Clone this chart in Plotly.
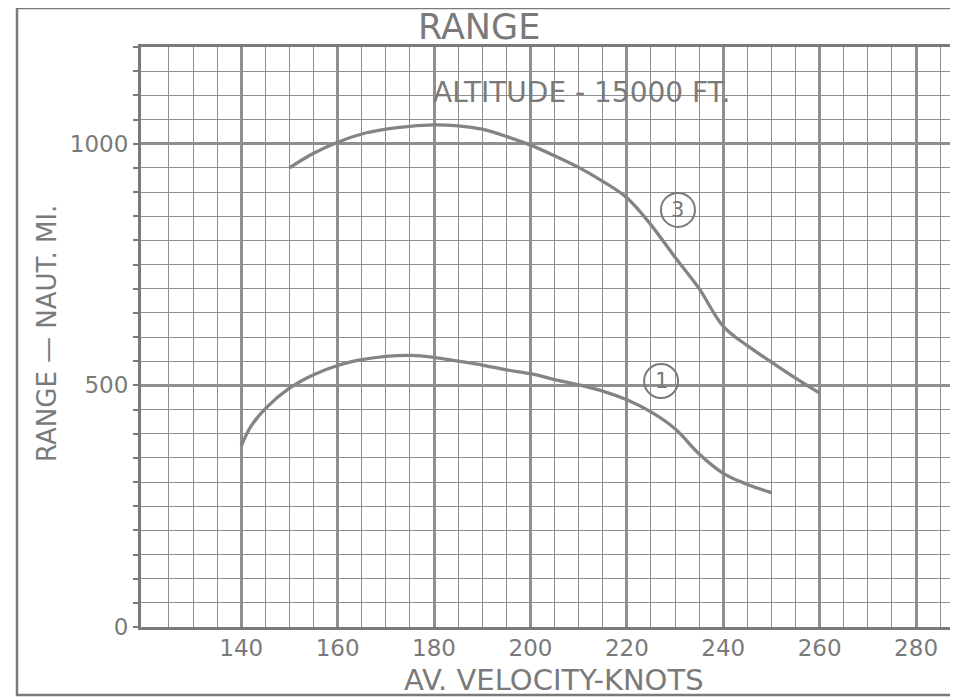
import plotly.graph_objects as go

# ---- data ----
velocity_3 = [150, 155, 160, 165, 170, 175, 180, 185, 190, 195, 200, 205, 210,
              215, 220, 225, 230, 235, 240, 245, 250, 255, 260]
range_3 = [950, 980, 1003, 1020, 1030, 1036, 1039, 1037, 1030, 1015, 997, 975, 951,
           922, 888, 832, 765, 700, 622, 582, 548, 515, 484]

velocity_1 = [140, 142, 145, 150, 155, 160, 165, 170, 175, 180, 185, 190, 195, 200,
              205, 210, 215, 220, 225, 230, 235, 240, 245, 250]
range_1 = [375, 415, 452, 494, 522, 541, 553, 560, 562, 558, 550, 542, 532, 524,
           512, 501, 488, 470, 445, 410, 358, 318, 295, 278]

x_tick_vals = [140, 160, 180, 200, 220, 240, 260, 280]
x_tick_text = ["140", "160", "180", "200", "220", "240", "260", "280"]
y_tick_vals = [0, 500, 1000]
y_tick_text = ["0", "500", "1000"]

curve_labels = ["3", "1"]
curve_label_x = [230.6, 227.1]
curve_label_y = [863, 509]

title_text = "RANGE"
note_text = "ALTITUDE - 15000 FT."
x_title = "AV. VELOCITY-KNOTS"
y_title = "RANGE — NAUT. MI."

INK = "#7a7a7a"
GRID = "#8f8f8f"
FONT = "DejaVu Sans, Verdana, sans-serif"

# page geometry: the browser page adds an 8px body margin, so the figure
# is made 8px smaller and all page-pixel targets are shifted accordingly
OFF = 8
W, H = 958 - OFF, 697 - OFF
L, R, T, B = 141 - OFF, 0, 47 - OFF, 70
PW, PH = W - L - R, H - T - B


def px_x(px):
    return (px - OFF - L) / PW


def px_y(py):
    return (H - B - (py - OFF)) / PH


fig = go.Figure()
for vx, vy in [(velocity_3, range_3), (velocity_1, range_1)]:
    fig.add_trace(go.Scatter(x=vx, y=vy, mode="lines",
                             line=dict(color="#848484", width=3.3, shape="spline", smoothing=1.0),
                             showlegend=False, hoverinfo="skip"))

# circled curve labels
for lab, lx, ly in zip(curve_labels, curve_label_x, curve_label_y):
    fig.add_shape(type="circle", xref="x", yref="y", xsizemode="pixel", ysizemode="pixel",
                  xanchor=lx, yanchor=ly, x0=-17, x1=17, y0=-17, y1=17,
                  line=dict(color=INK, width=2))
    fig.add_annotation(x=lx, y=ly, text=lab, showarrow=False,
                       font=dict(family=FONT, size=21, color=INK))

fig.add_annotation(x=210.6, y=1105, text=note_text, showarrow=False,
                   font=dict(family=FONT, size=28, color=INK))

# outer frame and title box
fig.add_shape(type="rect", xref="paper", yref="paper",
              x0=px_x(17), x1=px_x(958 + 10), y0=px_y(695), y1=px_y(8),
              line=dict(color=INK, width=2.5), layer="above")
fig.add_annotation(xref="paper", yref="paper", x=px_x(479), y=px_y(27),
                   text=title_text, showarrow=False, yanchor="middle",
                   font=dict(family=FONT, size=35, color=INK))

# axis titles
fig.add_annotation(xref="paper", yref="paper", x=px_x(554), y=px_y(680),
                   text=x_title, showarrow=False, yanchor="middle",
                   font=dict(family=FONT, size=29, color=INK))
fig.add_annotation(xref="paper", yref="paper", x=px_x(47), y=px_y(334),
                   text=y_title, showarrow=False, textangle=-90,
                   xanchor="center", yanchor="middle",
                   font=dict(family=FONT, size=26, color=INK))

fig.update_layout(
    width=W, height=H,
    margin=dict(l=L, r=R, t=T, b=B, autoexpand=False),
    paper_bgcolor="white", plot_bgcolor="white",
    font=dict(family=FONT, color=INK),
    xaxis=dict(range=[119.2, 288.7], tickvals=x_tick_vals, ticktext=x_tick_text,
               showgrid=True, gridcolor=GRID, gridwidth=2.6,
               minor=dict(tickmode="array", tickvals=list(range(125, 290, 5)),
                          showgrid=True, gridcolor=GRID, gridwidth=1.4),
               showline=True, linecolor=INK, linewidth=3, mirror=True,
               ticks="", ticklabelstandoff=-2, automargin=False,
               tickfont=dict(family=FONT, size=23, color=INK),
               zeroline=False, fixedrange=True),
    yaxis=dict(range=[0, 1200], tickvals=y_tick_vals, ticktext=y_tick_text,
               showgrid=True, gridcolor=GRID, gridwidth=2.6,
               minor=dict(tick0=0, dtick=50, showgrid=True, gridcolor=GRID, gridwidth=1.4,
                          ticks="outside", ticklen=5, tickcolor=INK, tickwidth=1.5),
               showline=True, linecolor=INK, linewidth=3, mirror=True,
               ticks="outside", ticklen=5, tickcolor=INK, tickwidth=1.5,
               automargin=False,
               tickfont=dict(family=FONT, size=23, color=INK),
               zeroline=False, fixedrange=True),
)

fig.write_html("out.html")
